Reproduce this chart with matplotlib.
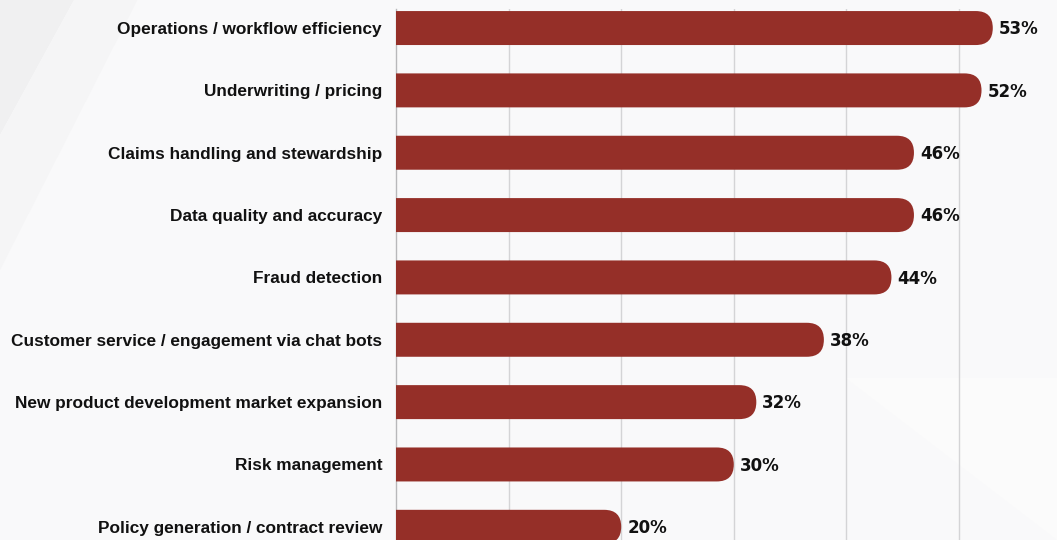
"""
horizontal bar chart - AI use cases, share of respondents
"""

import matplotlib.pyplot as plt
from matplotlib.patches import FancyBboxPatch, Polygon

## data
CATEGORIES = [
    'Operations / workflow efficiency',
    'Underwriting / pricing',
    'Claims handling and stewardship',
    'Data quality and accuracy',
    'Fraud detection',
    'Customer service / engagement via chat bots',
    'New product development market expansion',
    'Risk management',
    'Policy generation / contract review',
]
VALUES = [53, 52, 46, 46, 44, 38, 32, 30, 20]

BAR_COLOR  = '#952F28'
GRID_COLOR = '#D4D4D6'
BG_COLOR   = '#F9F9FA'


def plot_bars():
    '''
    plot bars with rounded right end
    '''
    fig = plt.figure(figsize=(10.57, 5.40), dpi=100)
    fig.patch.set_facecolor(BG_COLOR)

    # faint diagonal shapes in the background
    fig.patches.append(Polygon([(0, 1), (0.07, 1), (0, 0.75)], closed=True,
                               transform=fig.transFigure, facecolor='#F0F0F1',
                               edgecolor='none', zorder=-5))
    fig.patches.append(Polygon([(0, 0.75), (0.07, 1), (0.13, 1), (0, 0.5)], closed=True,
                               transform=fig.transFigure, facecolor='#F5F5F6',
                               edgecolor='none', zorder=-5))
    fig.patches.append(Polygon([(0.80, 0.30), (1, 0.0), (1, 0.30)], closed=True,
                               transform=fig.transFigure, facecolor='#FBFBFB',
                               edgecolor='none', zorder=-5))

    # axes runs off the bottom and right edge of the figure
    ax = fig.add_axes([396 / 1057, -0.0333, 1 - 396 / 1057, 1.016])
    ax.set_facecolor('none')

    y_pos = list(range(len(CATEGORIES)))
    bar_h = 0.545

    bars = ax.barh(y_pos, VALUES, height=bar_h, color=BAR_COLOR)

    ax.set_xlim(0, (1057 - 396) / 11.26)
    ax.set_ylim(8.5, -0.3)

    # swap each rectangle for a rounded box (left end hidden behind the axis)
    x_per_px = 1 / 11.26
    y_per_px = 1 / 62.35
    r_px = 17
    for rect in bars:
        x0 = rect.get_x() - 3
        w  = rect.get_width() + 3
        box = FancyBboxPatch((x0, rect.get_y()), w, rect.get_height(),
                             boxstyle='round,pad=0,rounding_size=%f' % (r_px * x_per_px),
                             mutation_aspect=y_per_px / x_per_px,
                             facecolor=BAR_COLOR, edgecolor='none', zorder=3,
                             clip_on=True)
        ax.add_patch(box)
        rect.set_visible(False)

    # value labels
    for y, v in zip(y_pos, VALUES):
        ax.text(v + 6 * x_per_px, y + 0.02, '%d%%' % v, va='center', ha='left',
                fontsize=12, fontweight='bold', family='DejaVu Sans', color='#111111',
                zorder=4)

    ax.set_yticks(y_pos)
    ax.set_yticklabels(CATEGORIES, fontsize=12.4, fontweight='bold',
                       family='Liberation Sans', color='#111111')
    ax.tick_params(axis='y', length=0, pad=10)
    ax.tick_params(axis='x', length=0, labelbottom=False)

    ax.set_xticks([10, 20, 30, 40, 50])
    ax.grid(True, axis='x', color=GRID_COLOR, linewidth=1.0, zorder=0)
    ax.set_axisbelow(True)

    for side in ['top', 'right', 'bottom']:
        ax.spines[side].set_visible(False)
    ax.spines['left'].set_color('#B8B8BA')
    ax.spines['left'].set_linewidth(1.0)

    fig.savefig('out.png', dpi=100, facecolor=fig.get_facecolor())

    return None


if __name__ == '__main__':
    plot_bars()
